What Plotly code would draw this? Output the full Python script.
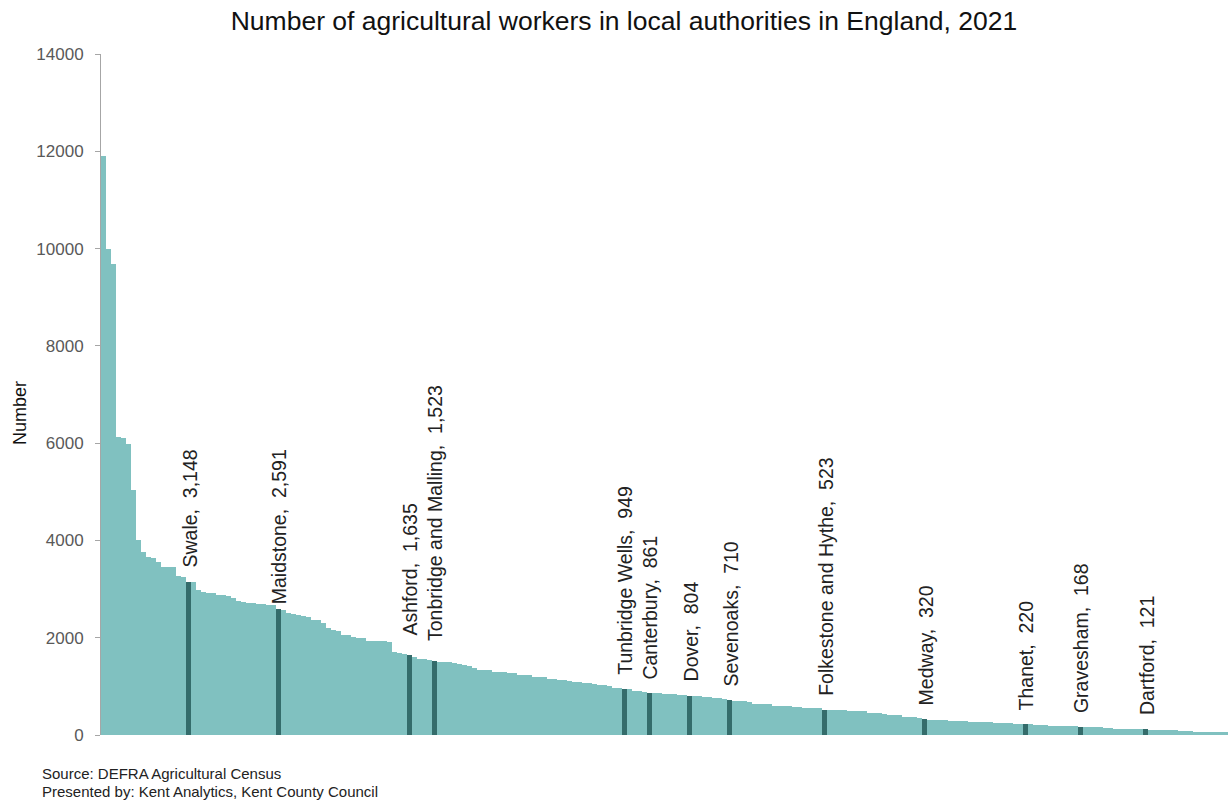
import plotly.graph_objects as go

# ---- data (ranked, largest first) ----
values = [
    11900, 10000, 9680, 6130, 6110, 5980, 5030, 4010, 3760, 3660,
    3640, 3560, 3460, 3455, 3445, 3260, 3250, 3148, 3145, 2980,
    2935, 2925, 2910, 2880, 2875, 2860, 2810, 2745, 2740, 2710,
    2705, 2700, 2695, 2680, 2670, 2591, 2580, 2500, 2490, 2475,
    2450, 2420, 2370, 2360, 2300, 2195, 2150, 2140, 2060, 2050,
    2020, 1995, 1990, 1940, 1935, 1930, 1925, 1920, 1715, 1680,
    1665, 1635, 1600, 1560, 1555, 1550, 1523, 1510, 1505, 1500,
    1475, 1470, 1430, 1425, 1385, 1340, 1335, 1330, 1305, 1300,
    1295, 1270, 1265, 1240, 1235, 1230, 1200, 1195, 1190, 1155,
    1150, 1135, 1130, 1100, 1095, 1090, 1065, 1060, 1040, 1030,
    1025, 1000, 975, 970, 949, 945, 900, 895, 890, 861,
    860, 855, 850, 840, 835, 832, 828, 804, 800, 795,
    788, 785, 760, 755, 750, 710, 705, 700, 690, 685,
    645, 640, 635, 632, 605, 602, 600, 598, 570, 568,
    565, 562, 548, 545, 523, 520, 518, 515, 512, 500,
    498, 495, 492, 460, 458, 455, 440, 420, 415, 410,
    370, 365, 360, 355, 320, 310, 308, 305, 302, 298,
    295, 292, 290, 275, 273, 272, 270, 268, 245, 242,
    240, 238, 235, 232, 220, 218, 215, 213, 210, 195,
    192, 190, 188, 186, 180, 168, 160, 158, 156, 155,
    153, 135, 133, 131, 130, 128, 126, 124, 121, 110,
    105, 103, 100, 98, 95, 92, 90, 88, 72, 68,
    65, 63, 60, 58, 55,
]

kent_names = ["Swale", "Maidstone", "Ashford", "Tonbridge and Malling",
              "Tunbridge Wells", "Canterbury", "Dover", "Sevenoaks",
              "Folkestone and Hythe", "Medway", "Thanet", "Gravesham", "Dartford"]
kent_values = [3148, 2591, 1635, 1523, 949, 861, 804, 710, 523, 320, 220, 168, 121]

y_ticks = [0, 2000, 4000, 6000, 8000, 10000, 12000, 14000]

title_text = "Number of agricultural workers in local authorities in England, 2021"
y_title = "Number"
source_lines = ["Source: DEFRA Agricultural Census",
                "Presented by: Kent Analytics, Kent County Council"]

# ---- styles ----
LIGHT = "#80C1C0"
DARK = "#346C6B"
FONT = "Liberation Sans, Arial, sans-serif"
label_gap = {"Maidstone": 3, "Ashford": 18, "Tonbridge and Malling": 18}

W, H = 1228, 800
ML, MR, MT, MB = 101, 0, 54, 65
pw, ph = W - ML - MR, H - MT - MB


def px_to_paper(px_x, px_y):
    return (px_x - ML) / pw, (H - MB - px_y) / ph


x = list(range(len(values)))
kent_pos = [values.index(v) for v in kent_values]
colors = [LIGHT] * len(values)
for p in kent_pos:
    colors[p] = DARK

fig = go.Figure(go.Bar(
    x=x, y=values, width=1.0,
    marker=dict(color=colors, line=dict(width=0)),
    hoverinfo="y",
))

annotations = []
for name, v, p in zip(kent_names, kent_values, kent_pos):
    annotations.append(dict(
        x=p, y=v, xref="x", yref="y",
        text=f"{name},\u00a0 {v:,}",
        textangle=-90, showarrow=False,
        xanchor="center", yanchor="bottom",
        yshift=label_gap.get(name, 12), xshift=1,
        font=dict(family=FONT, size=19.5, color="#222222"),
    ))

for i, line in enumerate(source_lines):
    ax, ay = px_to_paper(40, 773 + 18 * i)
    annotations.append(dict(
        x=ax, y=ay, xref="paper", yref="paper",
        text=line, showarrow=False, xanchor="left", yanchor="middle",
        font=dict(family=FONT, size=15, color="#222222"),
    ))

# y-axis title
ax, ay = px_to_paper(20, 413)
annotations.append(dict(
    x=ax, y=ay, xref="paper", yref="paper", text=y_title,
    textangle=-90, showarrow=False, xanchor="center", yanchor="middle",
    font=dict(family=FONT, size=18, color="#111111"),
))

fig.update_layout(
    width=W, height=H,
    margin=dict(l=ML, r=MR, t=MT, b=MB, autoexpand=False),
    plot_bgcolor="white", paper_bgcolor="white",
    bargap=0, showlegend=False,
    font=dict(family=FONT),
    title=dict(text=title_text, x=624 / W, xanchor="center", xref="container",
               y=1 - 21 / H, yanchor="middle", yref="container",
               font=dict(family=FONT, size=26.5, color="#111111")),
    annotations=annotations,
)
fig.update_xaxes(visible=False, range=[-0.5, len(values) - 0.5])
fig.update_yaxes(
    range=[0, 14000], tickvals=y_ticks, ticktext=[str(t) for t in y_ticks],
    showgrid=False, zeroline=False,
    showline=True, linecolor="#A6A6A6", linewidth=1,
    ticks="outside", ticklen=5, tickcolor="#A6A6A6",
    ticklabelstandoff=8,
    tickfont=dict(family=FONT, size=17, color="#595959"),
)

fig.write_html("out.html", config={"displayModeBar": False},
               post_script="document.body.style.margin='0';document.body.style.overflow='hidden';")
